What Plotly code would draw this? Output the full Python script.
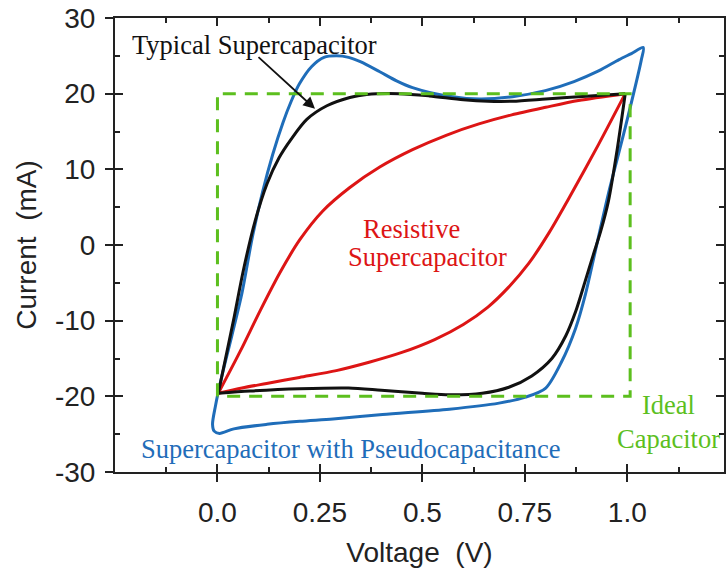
import plotly.graph_objects as go

# ---------------- data ----------------
# Ideal capacitor (rectangle)
ideal_v = [0.0, 0.0, 1.007, 1.007, 0.0]
ideal_i = [-20.0, 20.0, 20.0, -20.0, -20.0]

# Typical supercapacitor – charging (upper) branch
typical_up_v = [0.002, 0.039, 0.063, 0.092, 0.121, 0.150, 0.180, 0.218, 0.267,
                0.323, 0.364, 0.444, 0.517, 0.600, 0.660, 0.720, 0.801, 0.881, 0.995]
typical_up_i = [-19.6, -10.0, -3.4, 3.2, 8.1, 11.5, 14.0, 16.6, 18.4,
                19.5, 19.9, 20.0, 19.7, 19.2, 19.0, 19.0, 19.3, 19.6, 20.0]
# Typical supercapacitor – discharging (lower) branch
typical_down_v = [0.995, 0.975, 0.954, 0.935, 0.917, 0.896, 0.874, 0.850, 0.816, 0.767,
                  0.711, 0.646, 0.566, 0.500, 0.400, 0.320, 0.200, 0.080, 0.002]
typical_down_i = [20.0, 12.5, 5.8, 1.8, -1.3, -5.0, -8.8, -12.0, -15.0, -17.3,
                  -18.8, -19.6, -19.8, -19.6, -19.2, -18.9, -19.0, -19.3, -19.6]

# Resistive supercapacitor – upper branch
resistive_up_v = [0.002, 0.056, 0.104, 0.153, 0.201, 0.257, 0.323, 0.396, 0.476, 0.558,
                  0.638, 0.718, 0.801, 0.881, 0.995]
resistive_up_i = [-19.6, -14.0, -8.7, -3.6, 0.7, 4.5, 7.6, 10.3, 12.6, 14.5,
                  16.0, 17.2, 18.2, 19.1, 20.0]
# Resistive supercapacitor – lower branch
resistive_down_v = [0.995, 0.930, 0.864, 0.810, 0.760, 0.710, 0.660, 0.600, 0.530, 0.450,
                    0.370, 0.290, 0.200, 0.120, 0.060, 0.002]
resistive_down_i = [20.0, 13.3, 6.8, 1.7, -2.4, -5.6, -8.2, -10.5, -12.5, -14.2,
                    -15.5, -16.6, -17.5, -18.3, -18.9, -19.6]

# Supercapacitor with pseudocapacitance (closed loop starting at the tip)
pseudo_v = [1.039, 1.010, 0.980, 0.930, 0.870, 0.800, 0.720, 0.640, 0.560, 0.476,
            0.437, 0.396, 0.350, 0.320, 0.290, 0.260, 0.230, 0.200, 0.180, 0.160,
            0.135, 0.110, 0.085, 0.060, 0.035, 0.010, -0.005, -0.012, -0.008, 0.005,
            0.040, 0.121, 0.201, 0.282, 0.403, 0.566, 0.687, 0.752, 0.801, 0.840,
            0.874, 0.898, 0.922, 0.954, 0.995, 1.034, 1.039]
pseudo_i = [26.1, 25.3, 24.5, 23.0, 21.6, 20.4, 19.6, 19.3, 19.7, 20.8,
            21.7, 22.9, 24.2, 24.8, 25.0, 24.8, 23.6, 21.3, 19.0, 16.2,
            12.0, 7.0, 1.0, -6.3, -12.0, -17.5, -21.3, -23.7, -24.6, -24.9,
            -24.3, -23.7, -23.3, -23.0, -22.4, -21.7, -20.9, -20.1, -18.9, -15.4,
            -11.0, -6.5, -0.8, 6.8, 15.5, 24.4, 26.1]

x_tickvals = [0.0, 0.25, 0.5, 0.75, 1.0]
x_ticktext = ["0.0", "0.25", "0.5", "0.75", "1.0"]
x_minor = [-0.125, 0.125, 0.375, 0.625, 0.875, 1.125]
y_tickvals = [-30, -20, -10, 0, 10, 20, 30]
y_ticktext = ["-30", "-20", "-10", "0", "10", "20", "30"]
y_minor = [-25, -15, -5, 5, 15, 25]

# ---------------- colours / styles ----------------
GREEN = "#5cbf1e"
BLUE = "#1f6db9"
RED = "#dd1515"
BLACK = "#111111"
AXC = "#222222"
SANS = "Liberation Sans, Arial, sans-serif"
SERIF = "Liberation Serif, Times New Roman, serif"

XR = [-0.25, 1.236]
YR = [-30, 30]

fig = go.Figure()

fig.add_trace(go.Scatter(x=ideal_v, y=ideal_i, mode="lines",
                         line=dict(color=GREEN, width=3, dash="13px,9px"),
                         xaxis="x2", yaxis="y2", hoverinfo="skip"))
fig.add_trace(go.Scatter(x=pseudo_v, y=pseudo_i, mode="lines",
                         line=dict(color=BLUE, width=3, shape="spline", smoothing=0.8)))
fig.add_trace(go.Scatter(x=resistive_up_v, y=resistive_up_i, mode="lines",
                         line=dict(color=RED, width=3, shape="spline", smoothing=0.8)))
fig.add_trace(go.Scatter(x=resistive_down_v, y=resistive_down_i, mode="lines",
                         line=dict(color=RED, width=3, shape="spline", smoothing=0.8)))
fig.add_trace(go.Scatter(x=typical_up_v, y=typical_up_i, mode="lines",
                         line=dict(color=BLACK, width=3, shape="spline", smoothing=0.8)))
fig.add_trace(go.Scatter(x=typical_down_v, y=typical_down_i, mode="lines",
                         line=dict(color=BLACK, width=3, shape="spline", smoothing=0.8)))

annots = [
    dict(x=0.090, y=26.4, text="Typical Supercapacitor", color=BLACK),
    dict(x=0.473, y=2.1, text="Resistive", color=RED),
    dict(x=0.512, y=-1.6, text="Supercapacitor", color=RED),
    dict(x=0.325, y=-27.0, text="Supercapacitor with Pseudocapacitance", color=BLUE),
    dict(x=1.100, y=-23.4, text="Ideal<br>Capacitor", color=GREEN),
]
for a in annots:
    fig.add_annotation(x=a["x"], y=a["y"], xref="x", yref="y", text=a["text"],
                       showarrow=False, xanchor="center", yanchor="middle", align="center",
                       font=dict(family=SERIF, size=26.5, color=a["color"]))

# arrow pointing to the typical curve
fig.add_annotation(x=0.238, y=18.0, xref="x", yref="y", text="",
                   showarrow=True, ax=-58, ay=-53, axref="pixel", ayref="pixel",
                   arrowhead=2, arrowsize=1.3, arrowwidth=1.8, arrowcolor=BLACK)

fig.update_layout(
    width=726, height=581,
    margin=dict(l=115, r=0, t=18, b=109),
    paper_bgcolor="white", plot_bgcolor="white",
    showlegend=False,
    xaxis=dict(range=XR, showgrid=False, zeroline=False,
               showline=True, linecolor=AXC, linewidth=2,
               ticks="outside", ticklen=8, tickwidth=2, tickcolor=AXC,
               tickmode="array", tickvals=x_tickvals, ticktext=x_ticktext,
               ticklabelstandoff=6,
               tickfont=dict(family=SANS, size=28, color=AXC),
               title=dict(text="Voltage  (V)", font=dict(family=SANS, size=28, color=AXC),
                          standoff=16)),
    yaxis=dict(range=YR, showgrid=False, zeroline=False,
               showline=True, linecolor=AXC, linewidth=2,
               ticks="outside", ticklen=8, tickwidth=2, tickcolor=AXC,
               tickmode="array", tickvals=y_tickvals, ticktext=y_ticktext,
               ticklabelstandoff=4,
               tickfont=dict(family=SANS, size=28, color=AXC),
               title=dict(text="Current  (mA)", font=dict(family=SANS, size=28, color=AXC),
                          standoff=10)),
    xaxis2=dict(range=XR, overlaying="x", side="bottom", showgrid=False, zeroline=False,
                showline=True, linecolor=AXC, linewidth=2, mirror="ticks",
                ticks="inside", ticklen=8, tickwidth=2, tickcolor=AXC,
                tickmode="array", tickvals=x_tickvals, showticklabels=False,
                minor=dict(ticks="inside", ticklen=5, tickwidth=2, tickcolor=AXC,
                           tickmode="array", tickvals=x_minor)),
    yaxis2=dict(range=YR, overlaying="y", side="left", showgrid=False, zeroline=False,
                showline=True, linecolor=AXC, linewidth=2, mirror="ticks",
                ticks="inside", ticklen=8, tickwidth=2, tickcolor=AXC,
                tickmode="array", tickvals=y_tickvals, showticklabels=False,
                minor=dict(ticks="inside", ticklen=5, tickwidth=2, tickcolor=AXC,
                           tickmode="array", tickvals=y_minor)),
)

fig.write_html("out.html")
